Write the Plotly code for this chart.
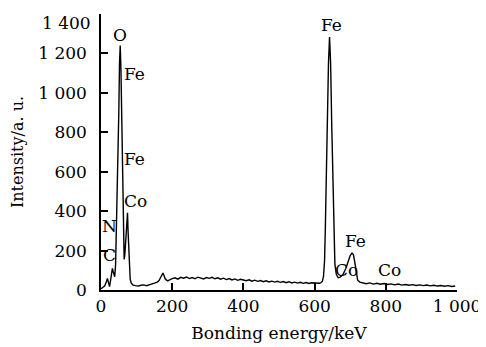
import plotly.graph_objects as go

# Spectrum
energy = [0, 3, 6, 10, 14, 18, 20, 22, 24, 27, 30, 32, 34, 36, 38.5,
          41, 43, 45, 47.5, 50, 52, 54, 56, 58, 60, 62, 63.5, 65, 67, 69, 71,
          73, 74.5, 76, 78, 80, 82, 85, 90, 97, 105, 112, 120, 128, 136, 144,
          152, 158, 163, 167, 171, 174, 177, 180, 184, 188, 193, 197,
          200, 208, 216, 224, 232, 240, 248, 256, 264, 272, 280, 288, 296,
          304, 312, 320, 328, 336, 344, 352, 360, 368, 376, 384, 392, 400,
          408, 416, 424, 432, 440, 448, 456, 464, 472, 480, 488, 496, 504,
          512, 520, 528, 536, 544, 552, 560, 568, 576, 584, 592, 600, 608,
          614, 618, 622, 625, 628, 630, 633, 636, 639, 642, 645, 648, 651,
          654, 657, 661, 666, 672, 680, 688, 695, 700, 705, 709, 713, 717,
          721, 727, 735, 745, 755, 765, 775, 785, 795, 805, 815, 825, 835,
          845, 855, 865, 875, 885, 895, 905, 915, 925, 935, 945, 955, 965,
          975, 985, 995]
intensity = [6, 10, 14, 20, 35, 59, 45, 28, 17, 50, 90, 110, 95, 75, 67,
             130, 280, 472, 643, 900, 1150, 1240, 1120, 870, 643, 450, 250, 155, 180, 250, 330,
             388, 392, 300, 180, 100, 55, 35, 25, 22, 20, 24, 26, 22, 28, 31,
             36, 40, 48, 62, 78, 86, 74, 58, 50, 46, 52, 56,
             58, 62, 55, 64, 60, 66, 58, 63, 57, 65, 61, 56, 63,
             59, 64, 57, 62, 55, 60, 53, 58, 51, 56, 49, 54, 50,
             47, 52, 45, 50, 44, 48, 42, 47, 41, 45, 40, 44, 39,
             43, 37, 42, 36, 40, 35, 39, 34, 38, 33, 37, 35, 36,
             34, 38, 45, 70, 150, 300, 600, 850, 1150, 1283, 1150, 850, 550,
             300, 130, 80, 62, 65, 80, 110, 150, 175, 187, 180, 140, 80,
             50, 40, 35, 32, 36, 30, 34, 29, 33, 28, 31, 26, 30,
             25, 28, 24, 27, 23, 26, 22, 25, 21, 24, 20, 23, 19,
             22, 18, 20]

x_ticks = [0, 200, 400, 600, 800, 1000]
x_tick_text = ["0", "200", "400", "600", "800", "1 000"]
y_ticks = [0, 200, 400, 600, 800, 1000, 1200, 1400]
y_tick_text = ["0", "200", "400", "600", "800", "1 000", "1 200", "1 400"]

# Peak labels: text, energy, intensity
peak_labels = ["O", "Fe", "Fe", "Co", "N", "C", "Fe", "Fe", "Co", "Co"]
peak_energy = [53, 95, 95, 97, 24, 23, 648, 715, 690, 811]
peak_intensity = [1292, 1096, 665, 452, 325, 178, 1345, 249, 102, 102]

FONT = "DejaVu Serif"

fig = go.Figure()
fig.add_trace(go.Scatter(x=energy, y=intensity, mode="lines",
                         line=dict(color="black", width=1.4),
                         showlegend=False, hoverinfo="skip"))

for t, e, i in zip(peak_labels, peak_energy, peak_intensity):
    fig.add_annotation(x=e, y=i, text=t, showarrow=False,
                       font=dict(family=FONT, size=17, color="#000000"))

# the top tick label sits just below its tick in the reference
axis_ticktext = y_tick_text[:-1] + [""]
fig.add_annotation(x=0, xref="paper", xanchor="right", xshift=-8,
                   y=y_ticks[-1], yref="y", yanchor="top", yshift=3,
                   text=y_tick_text[-1], showarrow=False,
                   font=dict(family=FONT, size=17, color="#000000"))

# the page body adds an 8 px offset, so the figure is 8 px smaller
fig.update_layout(
    width=478, height=339,
    margin=dict(l=93, r=29, t=6, b=57, autoexpand=False),
    paper_bgcolor="white", plot_bgcolor="white",
    font=dict(family=FONT, color="black"),
    xaxis=dict(range=[0, 1000], tickvals=x_ticks, ticktext=x_tick_text,
               automargin=False, ticklabeloverflow="allow",
               showline=True, linecolor="black", linewidth=1.5,
               ticks="inside", ticklen=7, tickwidth=1.5, tickcolor="black",
               showgrid=False, zeroline=False,
               tickfont=dict(family=FONT, size=17),
               title=dict(text="Bonding energy/keV",
                          font=dict(family=FONT, size=17), standoff=12)),
    yaxis=dict(range=[0, 1400], tickvals=y_ticks, ticktext=axis_ticktext,
               automargin=False, ticklabelstandoff=9, ticklabeloverflow="allow",
               showline=True, linecolor="black", linewidth=1.5,
               ticks="inside", ticklen=7, tickwidth=1.5, tickcolor="black",
               showgrid=False, zeroline=False,
               tickfont=dict(family=FONT, size=17),
               title=dict(text="Intensity/a. u.",
                          font=dict(family=FONT, size=16), standoff=11)),
)

fig.write_html("out.html")
